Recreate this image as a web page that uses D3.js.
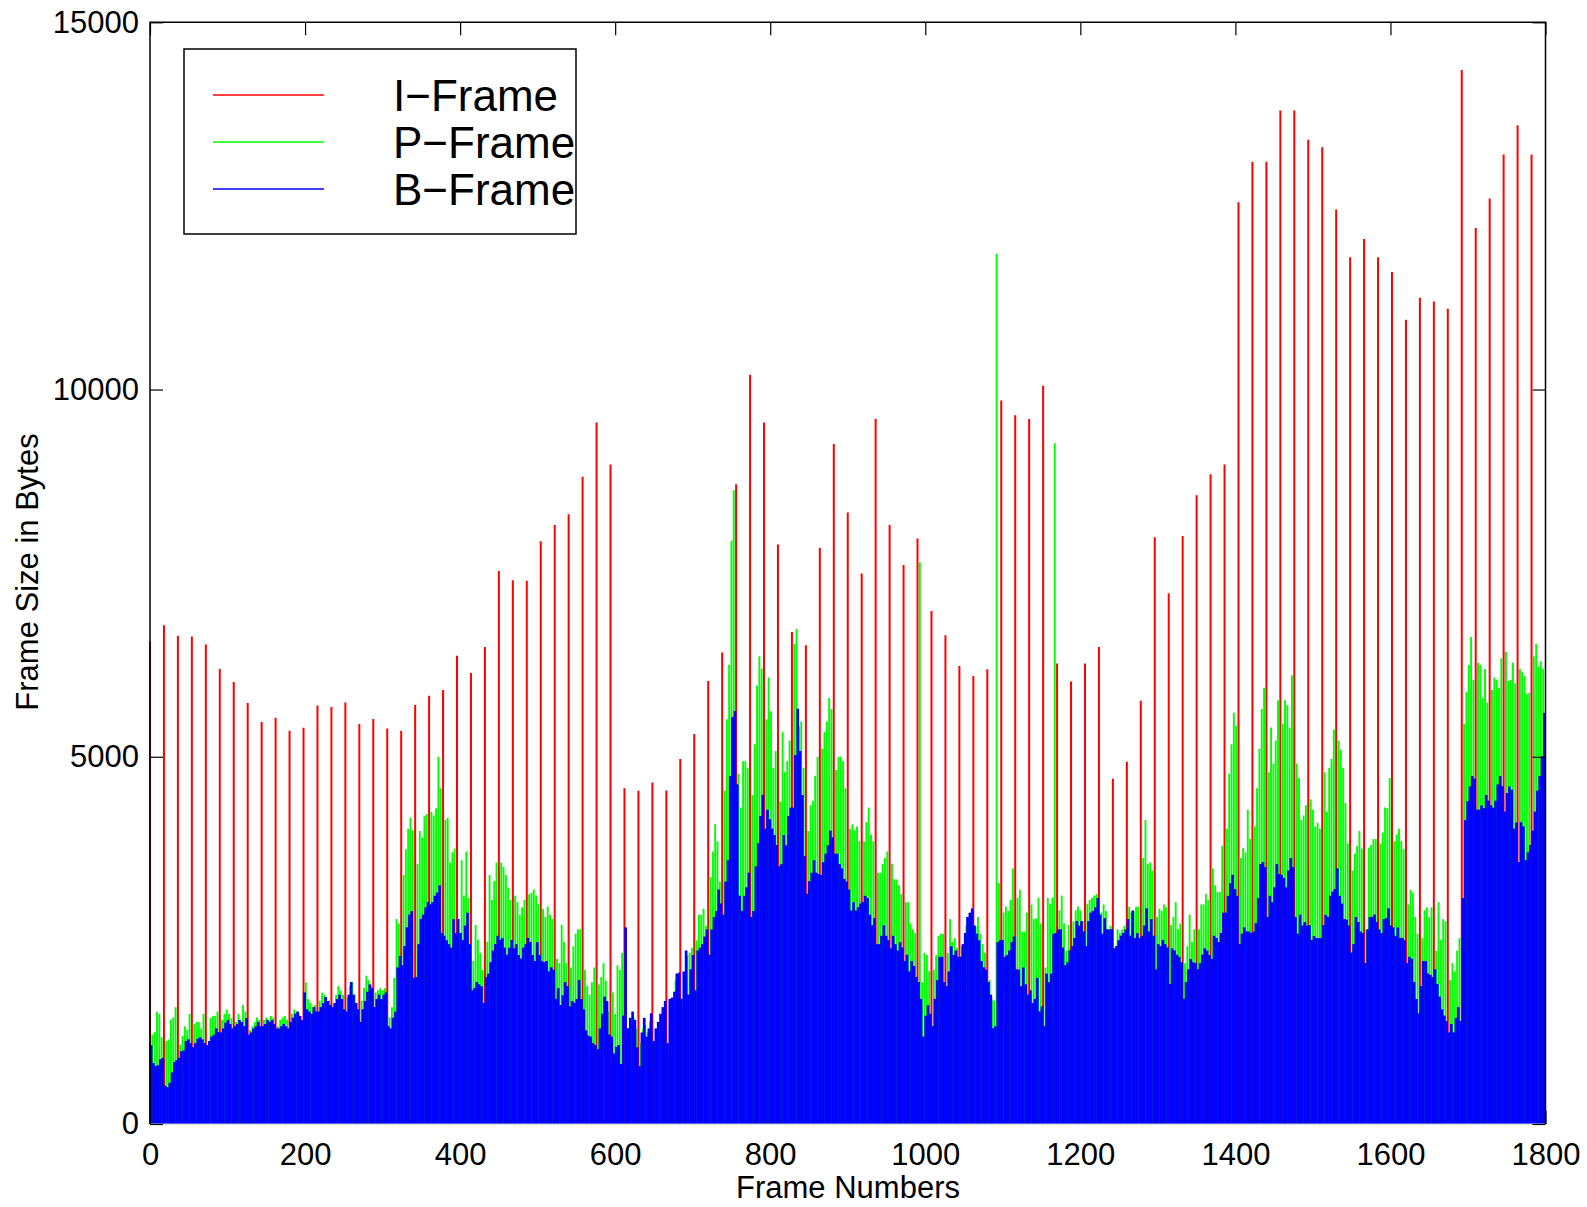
<!DOCTYPE html>
<html>

<head>
    <meta charset="utf-8">
    <style>
        body {
            margin: 0;
            background: white;
        }

        svg {
            display: block;
            font-family: 'Liberation Sans', Arial, Helvetica, sans-serif;
        }

        .tick text {
            font-size: 31px;
            fill: #000;
        }

        .tick line {
            stroke: #000;
            stroke-width: 1.2px;
        }

        .domain {
            display: none;
        }
    </style>
</head>

<body>
    <svg width="1587" height="1207"></svg>
</body>

<script src="https://d3js.org/d3.v7.min.js"></script>

<script>
    // frame sizes in bytes, one I frame per GOP of 18 frames (IBBPBBPBBPBBPBBPBB)
    let iSize = [
        6568, 6792, 6649, 6637, 6528, 6196, 6019, 5733, 5475, 5532,
        5355, 5395, 5698, 5676, 5738, 5447, 5515, 5384, 5355, 5704,
        5830, 5910, 6374, 6139, 6494, 7530, 7404, 7398, 7936, 8154,
        8303, 8812, 9550, 8978, 4571, 4536, 4651, 4542, 4971, 5309,
        6030, 6420, 8709, 10200, 9550, 7891, 6700, 6517, 7845, 9259,
        8326, 7496, 9600, 8154, 7610, 7971, 6986, 6654, 6236, 6099,
        6191, 9850, 9650, 9600, 10050, 6271, 6025, 6271, 6494, 4702,
        4931, 5761, 7988, 7227, 8005, 8560, 8847, 8978, 12550, 13100,
        13100, 13800, 13800, 13400, 13300, 12450, 11800, 12050, 11800, 11600,
        10950, 11250, 11200, 11100, 14350, 12200, 12600, 13200, 13600, 13200
    ]

    // five P frames per GOP
    let pSize = [
        [1220, 1250, 1530, 1500, 1180], [1130, 1150, 1420, 1450, 1590], [1080, 1200, 1330, 1280, 1500],
        [1360, 1390, 1390, 1300, 1500], [1070, 1445, 1470, 1470, 1530], [1420, 1500, 1560, 1500, 1440],
        [1390, 1500, 1360, 1620, 1530], [1280, 1330, 1390, 1450, 1420], [1420, 1450, 1420, 1470, 1450],
        [1330, 1420, 1450, 1470, 1420], [1500, 1560, 1530, 1500, 1420], [1930, 1700, 1650, 1590, 1620],
        [1680, 1790, 1760, 1650, 1680], [1650, 1760, 1880, 1820, 1760], [1730, 1880, 1930, 1760, 1650],
        [1680, 1850, 2020, 1960, 1880], [1790, 1820, 1850, 1820, 1850], [1450, 1590, 1990, 2790, 2730],
        [3390, 3740, 4020, 4170, 4000], [3540, 3990, 3900, 4190, 4220], [4250, 4200, 4300, 5000, 4570],
        [4140, 4170, 3560, 3700, 3750], [2300, 3590, 3110, 3710, 3080], [2220, 2710, 2510, 2330, 2100],
        [2480, 3390, 3050, 3310, 3560], [3560, 3500, 3390, 3220, 3050], [3110, 3020, 2850, 2950, 3050],
        [3130, 3150, 3190, 3110, 3000], [2930, 2820, 2960, 2850, 2790], [2250, 2190, 2710, 2480, 2190],
        [2130, 2420, 2590, 2650, 2650], [2100, 1880, 1760, 1930, 2130], [1900, 2000, 2190, 1950, 1530],
        [1790, 1500, 2160, 2100, 2330], [1200, 1300, 1400, 1450, 1300], [1100, 1300, 1350, 1250, 1400],
        [1050, 1250, 1350, 1450, 1550], [1000, 1650, 1700, 1950, 2000], [1650, 2000, 2300, 2330, 2400],
        [2500, 2850, 2850, 2930, 2700], [3360, 3710, 4080, 3850, 3300], [4540, 5510, 6250, 7940, 8630],
        [4770, 4310, 4940, 4940, 4850], [4480, 5170, 5970, 6370, 6200], [5510, 6080, 5620, 4850, 5080],
        [4390, 5340, 4790, 4940, 5220], [6540, 6740, 5420, 5480, 4850], [3990, 4340, 4400, 4740, 5000],
        [5110, 5340, 5480, 5800, 5650], [4820, 5000, 5000, 4940, 4570], [4020, 4080, 4000, 4050, 3850],
        [3850, 4110, 4310, 3940, 3850], [3420, 3420, 3540, 3620, 3710], [3540, 3330, 3330, 3250, 3130],
        [3020, 3020, 2730, 2650, 2600], [7650, 1930, 2330, 2300, 2080], [2100, 2300, 2560, 2590, 2590],
        [2330, 2790, 2480, 2530, 2400], [2420, 2450, 2710, 2820, 2590], [2700, 2820, 2590, 2450, 2330],
        [1960, 1700, 1680, 11850, 3280], [2880, 2960, 2900, 3050, 3480], [3080, 3190, 2620, 2620, 2880],
        [2990, 2790, 2800, 3080, 2730], [2130, 3080, 3000, 3080, 9270], [2910, 3110, 2730, 2360, 2710],
        [2760, 2910, 2960, 2910, 2760], [3000, 3050, 3080, 3110, 3130], [2880, 2990, 2900, 2650, 2700],
        [2390, 2650, 2600, 2650, 2700], [2960, 2880, 2900, 2960, 2960], [3620, 4140, 3540, 3560, 3450],
        [2820, 2930, 2900, 2990, 2950], [2710, 2820, 3020, 2650, 2730], [2190, 2420, 2850, 2480, 2650],
        [2650, 2990, 2990, 3130, 3050], [3480, 3250, 3160, 3160, 3790], [4020, 4770, 5170, 5600, 5420],
        [3620, 3760, 3700, 4280, 3880], [4050, 4570, 5110, 5650, 5940], [4790, 5400, 4910, 5220, 5770],
        [5450, 5770, 5700, 5400, 6110], [4910, 4710, 4140, 4200, 4340], [4420, 4280, 4050, 4100, 4020],
        [4790, 4250, 4850, 4970, 5370], [5220, 5100, 4850, 4370, 3820], [3450, 3680, 3790, 3990, 3750],
        [2650, 3760, 3800, 3880, 3880], [3820, 3970, 4310, 4300, 4710], [3850, 3940, 4020, 3850, 3740],
        [2990, 3190, 3150, 2820, 2590], [2530, 2910, 2950, 2820, 2950], [2360, 3020, 2510, 2790, 2760],
        [1960, 2190, 2080, 2360, 2530], [5450, 5880, 6250, 6630, 6050], [6280, 6250, 5800, 6200, 5740],
        [5910, 6080, 6050, 5940, 6340], [6430, 6030, 6050, 6280, 6000], [6200, 6150, 6100, 5850, 5870],
        [6370, 6540, 6230, 6300, 6200]
    ]

    // six B frame pairs per GOP
    let bSize = [
        [1070, 830, 790, 800, 880, 900], [520, 500, 560, 700, 845, 870], [900, 990, 1000, 1130, 1150, 1100],
        [1045, 1100, 1160, 1180, 1150, 1100], [1074, 1130, 1190, 1215, 1300, 1250], [1245, 1300, 1380, 1417, 1360, 1300],
        [1330, 1360, 1417, 1390, 1330, 1440], [1215, 1245, 1300, 1330, 1390, 1330], [1330, 1360, 1417, 1390, 1417, 1360],
        [1300, 1300, 1330, 1360, 1330, 1300], [1390, 1445, 1500, 1530, 1470, 1417], [1790, 1560, 1530, 1500, 1590, 1530],
        [1530, 1590, 1646, 1730, 1675, 1620], [1590, 1646, 1700, 1760, 1700, 1560], [1531, 1760, 1932, 1760, 1646, 1560],
        [1390, 1560, 1675, 1800, 1900, 1850], [1590, 1700, 1760, 1700, 1760, 1790], [1330, 1300, 1445, 1530, 2132, 2287],
        [2160, 2420, 2676, 2850, 2900, 1990], [2000, 2447, 2790, 2850, 2950, 3020], [2990, 3020, 3106, 3150, 3249, 2600],
        [2562, 2500, 2447, 2400, 2790, 2600], [2790, 2600, 2505, 2700, 2876, 2447], [1818, 1850, 1932, 1900, 1875, 1646],
        [2000, 2047, 2200, 2361, 2450, 2562], [2505, 2530, 2400, 2304, 2400, 2505], [2390, 2447, 2300, 2250, 2400, 2447],
        [2533, 2476, 2300, 2218, 2476, 2300], [2218, 2200, 2218, 2075, 2132, 2100], [1703, 1847, 1618, 1750, 1932, 1875],
        [1600, 1675, 1650, 1700, 1960, 1700], [1560, 1273, 1200, 1188, 1100, 1074], [1016, 1300, 1500, 1732, 1675, 1216],
        [1188, 959, 1050, 1074, 816, 1474], [2676, 1302, 1445, 1530, 1417, 1045], [787, 1245, 1445, 1188, 1300, 1505],
        [1130, 1300, 1390, 1500, 1590, 1675], [1102, 1703, 1720, 1800, 2047, 2060], [1703, 2075, 2361, 1760, 2104, 2300],
        [1818, 2361, 2400, 2447, 2550, 2647], [2304, 2647, 2819, 2900, 3191, 3000], [2848, 3300, 3592, 4737, 5538, 5624],
        [4622, 3106, 2900, 3106, 3220, 3420], [2819, 2900, 3506, 3821, 4193, 4479], [4021, 4279, 4150, 4021, 3936, 3800],
        [3506, 3535, 3936, 3792, 4193, 4307], [4307, 5023, 5653, 5080, 4479, 3650], [3134, 3306, 3420, 3592, 3420, 3400],
        [3392, 3564, 3678, 3792, 3993, 3900], [3678, 3678, 3535, 3478, 3334, 3300], [3191, 2905, 3020, 2905, 2950, 3000],
        [3020, 3106, 3077, 2848, 2705, 2800], [2447, 2447, 2562, 2705, 2562, 2500], [2390, 2562, 2447, 2361, 2476, 2400],
        [2218, 2304, 2075, 2218, 2150, 2000], [1932, 1703, 1188, 1474, 1618, 1500], [1330, 1703, 1960, 2276, 2276, 1932],
        [1875, 2075, 2419, 2300, 2361, 2276], [2276, 2447, 2600, 2819, 2876, 2934], [2700, 2590, 2500, 2218, 2132, 2100],
        [1932, 1760, 1302, 1330, 2476, 2500], [2505, 2276, 2300, 2361, 2476, 2550], [2104, 2100, 1875, 2132, 1900, 1760],
        [1818, 1646, 1700, 1990, 1531, 1600], [1330, 2047, 1932, 2047, 2590, 2600], [2647, 2647, 2400, 2160, 2200, 2361],
        [2419, 2533, 2762, 2700, 2762, 2619], [2419, 2762, 2876, 2900, 2950, 3077], [2848, 2590, 2800, 2650, 2647, 2650],
        [2390, 2419, 2500, 2562, 2600, 2647], [2790, 2562, 2905, 2533, 2600, 2533], [2562, 2700, 2934, 2619, 2790, 2562],
        [2104, 2447, 2420, 2505, 2447, 2400], [1904, 2390, 2361, 2304, 2276, 2200], [1703, 1932, 2104, 2247, 2200, 2190],
        [2104, 2190, 2304, 2390, 2361, 2300], [2247, 2562, 2533, 2476, 2600, 2876], [2876, 3106, 3277, 3392, 3200, 3106],
        [2447, 2590, 2676, 2620, 2620, 2600], [2619, 2733, 3077, 3535, 3564, 3500], [2819, 3106, 3020, 3220, 3535, 3400],
        [3392, 3350, 3220, 3450, 3621, 3500], [2819, 2590, 2850, 2700, 2750, 2700], [2705, 2505, 2560, 2530, 2530, 2530],
        [2705, 2848, 2820, 3106, 3163, 3200], [3478, 3106, 3000, 2790, 2780, 2700], [2333, 2447, 2819, 2750, 2619, 2600],
        [2190, 2647, 2819, 2820, 2850, 2750], [2647, 2600, 2790, 2800, 2934, 2700], [2676, 2562, 2676, 2533, 2533, 2500],
        [2190, 2276, 2250, 1932, 1700, 1503], [1875, 2218, 2218, 2047, 2030, 2000], [2104, 1904, 1732, 1560, 1474, 1400],
        [1245, 1360, 1245, 1445, 1590, 1400], [3077, 4136, 4393, 4594, 4737, 4700], [4279, 4280, 4336, 4300, 4479, 4400],
        [4336, 4307, 4400, 4622, 4737, 4600], [4250, 4508, 4594, 4550, 4021, 4100], [3564, 4107, 4050, 3592, 3700, 3800],
        [3993, 4250, 4537, 4737, 5000, 5596]
    ]

    let xTicks = [0, 200, 400, 600, 800, 1000, 1200, 1400, 1600, 1800]
    let yTicks = [0, 5000, 10000, 15000]
    let seriesNames = ["I\u2212Frame", "P\u2212Frame", "B\u2212Frame"]
    let seriesColors = ["#ff0000", "#00ff00", "#0000ff"]

    // gop layout
    let gop = 18
    let pOffsets = [3, 6, 9, 12, 15]
    let bOffsets = [[1, 2], [4, 5], [7, 8], [10, 11], [13, 14], [16, 17]]

    let svg = d3.select("svg")

    let margin = { top: 22.3, right: 41.5, bottom: 83, left: 150 };
    let width = 1587
    let height = 1207

    let x = d3.scaleLinear()
        .domain([0, 1800])
        .range([margin.left, width - margin.right])

    let y = d3.scaleLinear()
        .domain([0, 15000])
        .range([height - margin.bottom, margin.top])

    // build one row per frame
    let iFrames = iSize.map((v, k) => ({ frame: k * gop, size: v }))
    let pFrames = []
    pSize.forEach(function (row, k) {
        row.forEach(function (v, j) {
            pFrames.push({ frame: k * gop + pOffsets[j], size: v })
        })
    })
    let bFrames = []
    bSize.forEach(function (row, k) {
        row.forEach(function (v, j) {
            bOffsets[j].forEach(function (o) {
                bFrames.push({ frame: k * gop + o, size: v })
            })
        })
    })

    let series = [iFrames, pFrames, bFrames]
    let plain = d3.format("d")

    // bottom ticks sit under the data
    svg.append("g")
        .attr("class", "x axis")
        .attr("transform", `translate(0,${y(0)})`)
        .call(d3.axisBottom(x).tickValues(xTicks).tickFormat(plain).tickSize(-13).tickPadding(19))

    // stems, I first then P then B on top
    series.forEach(function (data, i) {
        svg.append("g")
            .selectAll("line")
            .data(data)
            .join("line")
            .attr("x1", d => x(d.frame))
            .attr("x2", d => x(d.frame))
            .attr("y1", y(0))
            .attr("y2", d => y(d.size))
            .style("stroke", seriesColors[i])
            .style("stroke-width", i == 0 ? "2px" : "1.9px")
    })

    // box
    svg.append("line")
        .attr("x1", x(0)).attr("x2", x(1800))
        .attr("y1", y(0)).attr("y2", y(0))
        .style("stroke", "#c4c4c4")
        .style("stroke-width", "1px")

    svg.append("path")
        .attr("d", `M${x(0)},${y(0)}V${y(15000)}H${x(1800)}V${y(0)}`)
        .style("fill", "none")
        .style("stroke", "black")
        .style("stroke-width", "1.5px")

    svg.append("g")
        .attr("class", "y axis")
        .attr("transform", `translate(${x(0)},0)`)
        .call(d3.axisLeft(y).tickValues(yTicks).tickFormat(plain).tickSize(-13).tickPadding(11))

    svg.append("g")
        .attr("transform", `translate(${x(1800)},0)`)
        .call(d3.axisRight(y).tickValues(yTicks).tickSize(-13).tickFormat(""))

    svg.append("g")
        .attr("transform", `translate(0,${y(15000)})`)
        .call(d3.axisTop(x).tickValues(xTicks).tickSize(-13).tickFormat(""))

    // axis titles
    svg.append("text")
        .attr("x", 848)
        .attr("y", 1198)
        .attr("text-anchor", "middle")
        .style("font-size", "31px")
        .text("Frame Numbers")

    svg.append("text")
        .attr("transform", "translate(38,572) rotate(-90)")
        .attr("text-anchor", "middle")
        .style("font-size", "31px")
        .text("Frame Size in Bytes")

    // legend
    let legend = svg.append("g")

    legend.append("rect")
        .attr("x", 184)
        .attr("y", 49)
        .attr("width", 392)
        .attr("height", 185)
        .style("fill", "white")
        .style("stroke", "black")
        .style("stroke-width", "1.5px")

    seriesNames.forEach(function (name, i) {
        let ly = 95 + i * 47
        legend.append("line")
            .attr("x1", 213)
            .attr("x2", 324)
            .attr("y1", ly)
            .attr("y2", ly)
            .style("stroke", seriesColors[i])
            .style("stroke-width", "1.5px")
        legend.append("text")
            .attr("x", 393)
            .attr("y", ly + 16)
            .style("font-size", "44px")
            .text(name)
    })
</script>

</html>
